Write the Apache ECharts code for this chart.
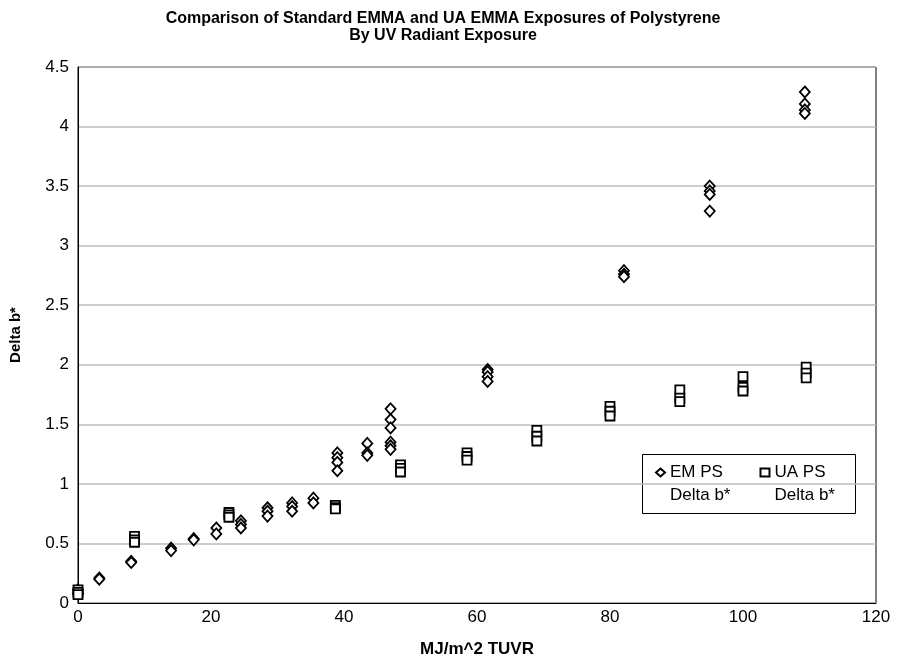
<!DOCTYPE html>
<html>
<head>
<meta charset="utf-8">
<script src="https://cdn.jsdelivr.net/npm/echarts@6/dist/echarts.min.js"></script>
<style>
html,body{margin:0;padding:0;background:#fff;}
#chart{width:899px;height:664px;}
</style>
</head>
<body>
<div id="chart"></div>
<script>
// EM PS Delta b* (diamonds)
const emExposure = [0,0, 3.2,3.2, 8,8, 14,14, 17.4,17.4, 20.8,20.8, 24.5,24.5,24.5, 28.5,28.5,28.5, 32.2,32.2,32.2, 35.4,35.4,
  39,39,39,39, 43.5,43.5,43.5, 47,47,47,47,47,47, 61.6,61.6,61.6,61.6, 82.1,82.1,82.1, 95,95,95,95, 109.3,109.3,109.3,109.3];
const emDelta = [0.11,0.08, 0.21,0.20, 0.35,0.34, 0.46,0.44, 0.54,0.53, 0.63,0.58, 0.69,0.66,0.63, 0.80,0.77,0.73, 0.84,0.81,0.77, 0.88,0.84,
  1.26,1.22,1.18,1.11, 1.34,1.26,1.24, 1.63,1.54,1.47,1.35,1.32,1.29, 1.96,1.94,1.90,1.86, 2.79,2.76,2.74, 3.50,3.46,3.43,3.29, 4.29,4.19,4.14,4.11];

// UA PS Delta b* (squares)
const uaExposure = [0,0,0, 8.5,8.5,8.5, 22.7,22.7,22.7, 38.7,38.7,38.7, 48.5,48.5,48.5, 58.5,58.5,58.5, 69,69,69,
  80,80,80, 90.5,90.5,90.5, 100,100,100, 109.5,109.5,109.5];
const uaDelta = [0.11,0.09,0.07, 0.56,0.53,0.51, 0.76,0.74,0.72, 0.82,0.80,0.79, 1.16,1.13,1.10, 1.26,1.23,1.20, 1.45,1.40,1.36,
  1.65,1.61,1.57, 1.79,1.72,1.69, 1.90,1.81,1.78, 1.98,1.93,1.89];

const seriesNames = ['EM PS', 'UA PS'];
const legendSub = 'Delta b*';
const titleLines = ['Comparison of Standard EMMA and UA EMMA Exposures of Polystyrene', 'By UV Radiant Exposure'];
const xAxisTitle = 'MJ/m^2 TUVR';
const yAxisTitle = 'Delta b*';

const pairs = (xs, ys) => xs.map((x, i) => [x, ys[i]]);
const FONT = '"Liberation Sans", Arial, Helvetica, sans-serif';

const chart = echarts.init(document.getElementById('chart'), null, {renderer: 'canvas'});
chart.setOption({
  backgroundColor: '#fff',
  animation: false,
  title: {
    text: titleLines.join('\n'),
    left: 438, top: 5, textAlign: 'center',
    textStyle: {fontFamily: FONT, fontSize: 16, fontWeight: 'bold', color: '#000', lineHeight: 17}
  },
  grid: {left: 78, right: 23, top: 67, bottom: 61, show: true, borderColor: '#000', borderWidth: 1, backgroundColor: 'transparent'},
  xAxis: {
    type: 'value', min: 0, max: 120, interval: 20,
    name: xAxisTitle, nameLocation: 'middle', nameGap: 38,
    nameTextStyle: {fontFamily: FONT, fontSize: 17, fontWeight: 'bold', color: '#000'},
    axisLine: {show: true, lineStyle: {color: '#000', width: 1}},
    axisTick: {show: false},
    splitLine: {show: false},
    axisLabel: {fontFamily: FONT, fontSize: 17, color: '#000', margin: 6}
  },
  yAxis: {
    type: 'value', min: 0, max: 4.5, interval: 0.5,
    name: yAxisTitle, nameLocation: 'middle', nameGap: 55,
    nameTextStyle: {fontFamily: FONT, fontSize: 15, fontWeight: 'bold', color: '#000'},
    axisLine: {show: true, lineStyle: {color: '#000', width: 1}},
    axisTick: {show: false},
    splitLine: {show: true, lineStyle: {color: '#bdbdbd', width: 1.5}},
    axisLabel: {fontFamily: FONT, fontSize: 17, color: '#000', margin: 9,
      formatter: v => String(Math.round(v * 10) / 10)}
  },
  legend: {
    data: seriesNames,
    left: 655, top: 438,
    orient: 'horizontal',
    itemWidth: 9, itemHeight: 8, itemGap: 29,
    padding: 0,
    formatter: n => '\n' + n + '\n' + legendSub,
    textStyle: {fontFamily: FONT, fontSize: 17, color: '#000', lineHeight: 23}
  },
  graphic: [{
    type: 'rect', left: 642, top: 454, z: 0,
    shape: {width: 213, height: 59},
    style: {fill: '#fff', stroke: '#000', lineWidth: 1}
  }],
  series: [
    {
      name: seriesNames[0], type: 'scatter', symbol: 'diamond', symbolSize: [10, 11],
      itemStyle: {color: '#fff', borderColor: '#000', borderWidth: 1.8, opacity: 1},
      data: pairs(emExposure, emDelta), z: 3
    },
    {
      name: seriesNames[1], type: 'scatter', symbol: 'rect', symbolSize: 9,
      itemStyle: {color: '#fff', borderColor: '#000', borderWidth: 1.8, opacity: 1},
      data: pairs(uaExposure, uaDelta), z: 3
    }
  ]
});
</script>
</body>
</html>
